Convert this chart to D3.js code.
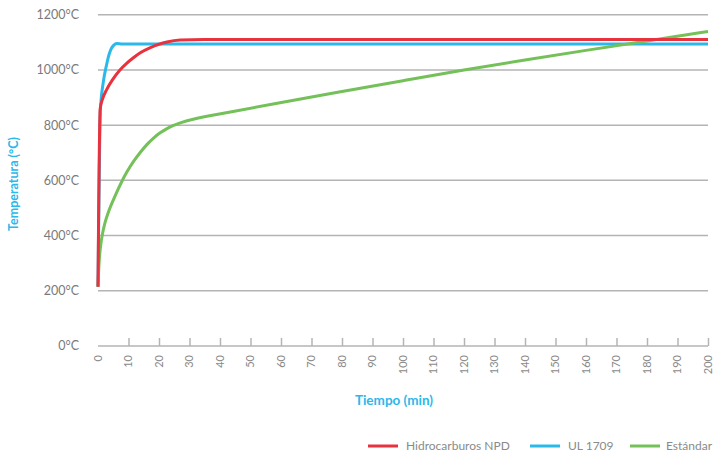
<!DOCTYPE html>
<html><head><meta charset="utf-8">
<script src="https://cdn.jsdelivr.net/npm/d3@7"></script>
<style>body{margin:0;background:#fff}svg{display:block;font-family:Lato,"Open Sans",sans-serif}</style>
</head><body><svg id="c" width="715" height="457"></svg>
<script>
const seriesNames = ["Hidrocarburos NPD", "UL 1709", "Estándar"];
const seriesColors = ["#e8323e", "#2bb8ea", "#74c059"];
// [time (min), temperature (°C)]
const hidrocarburos = [[0,215],[0.7,858],[1.5,895],[2.8,928],[4.8,965],[7.2,1000],[9.3,1023],[11.5,1043],[14,1063],[17,1080],[20,1093],[22.6,1101],[27,1108],[35,1110],[60,1110],[100,1110],[150,1110],[200,1110]];
const ul1709 = [[0,215],[0.8,855],[1.7,953],[2.8,1018],[3.6,1055],[4.5,1080],[5.2,1090],[6.1,1096],[8,1094],[20,1094],[60,1094],[120,1094],[200,1094]];
const estandar = [[0,215],[0.3,300],[0.7,352],[1.3,400],[2.2,445],[3.2,480],[4.5,516],[6,554],[7.6,592],[9.5,632],[11.7,670],[14,704],[16.1,731],[18.2,754],[20.4,773],[22.5,787],[24.5,798],[27,809],[30.8,821],[35,831],[40.7,842],[60,882],[80,922],[100,961],[120,1000],[140,1036],[160,1071],[180,1105],[200,1139]];
const xTicks = d3.range(0, 201, 10);
const yTicks = [0, 200, 400, 600, 800, 1000, 1200];

const svg = d3.select("#c");
const x = d3.scaleLinear().domain([0, 200]).range([98, 708]);
const y = d3.scaleLinear().domain([0, 1200]).range([346, 14.7]);

// gridlines
svg.append("g").selectAll("line").data(yTicks.filter(d => d > 0)).join("line")
  .attr("x1", x(0)).attr("x2", x(200)).attr("y1", d => y(d)).attr("y2", d => y(d))
  .attr("stroke", "#b4b4b4").attr("stroke-width", 1.5);

// y labels
svg.append("g").selectAll("text").data(yTicks).join("text")
  .attr("x", 79).attr("y", d => y(d)).attr("dy", "0.35em").attr("text-anchor", "end")
  .attr("fill", "#7a7a7a").attr("font-size", 12.5).text(d => d + "°C");

// x axis
const xAxis = d3.axisTop(x).tickValues(xTicks.filter(d => d > 0)).tickSize(8).tickFormat("");
const gx = svg.append("g").attr("transform", `translate(0,${y(0)})`).call(xAxis);
gx.select(".domain").attr("stroke", "#b4b4b4").attr("stroke-width", 1.5).attr("d", `M${x(0)},0H${x(200)}`);
gx.selectAll(".tick line").attr("stroke", "#b4b4b4").attr("stroke-width", 1.5);

svg.append("g").selectAll("text").data(xTicks).join("text")
  .attr("transform", d => `translate(${x(d)},355) rotate(-90)`)
  .attr("dy", "0.35em").attr("text-anchor", "end")
  .attr("fill", "#8a8a8a").attr("font-size", 11).text(d => d);

// axis titles
svg.append("text").attr("transform", "translate(14,184) rotate(-90)")
  .attr("dy", "0.35em").attr("text-anchor", "middle").attr("fill", "#2bb8ea")
  .attr("font-weight", "bold").attr("font-size", 12.5).text("Temperatura (°C)");
svg.append("text").attr("x", 394).attr("y", 405).attr("text-anchor", "middle")
  .attr("fill", "#2bb8ea").attr("font-weight", "bold").attr("font-size", 13.5).text("Tiempo (min)");

// lines
const lineMono = d3.line().x(d => x(d[0])).y(d => y(d[1])).curve(d3.curveMonotoneX);
const lineSmooth = d3.line().x(d => x(d[0])).y(d => y(d[1])).curve(d3.curveBasis);
const g = svg.append("g").attr("fill", "none").attr("stroke-width", 3).attr("stroke-linejoin", "round");
g.append("path").attr("d", lineMono(ul1709)).attr("stroke", seriesColors[1]);
g.append("path").attr("d", lineSmooth(estandar)).attr("stroke", seriesColors[2]);
g.append("path").attr("d", lineMono(hidrocarburos)).attr("stroke", seriesColors[0]);

// legend
const legX = [368, 530, 630];
const lg = svg.append("g").selectAll("g").data(seriesNames).join("g")
  .attr("transform", (d, i) => `translate(${legX[i]},446)`);
lg.append("line").attr("x1", 0).attr("x2", 30).attr("stroke", (d, i) => seriesColors[i]).attr("stroke-width", 3);
lg.append("text").attr("x", (d, i) => i === 2 ? 36 : 38).attr("dy", "0.35em").attr("fill", "#8a8a8a").attr("font-size", 12).text(d => d);
</script></body></html>
